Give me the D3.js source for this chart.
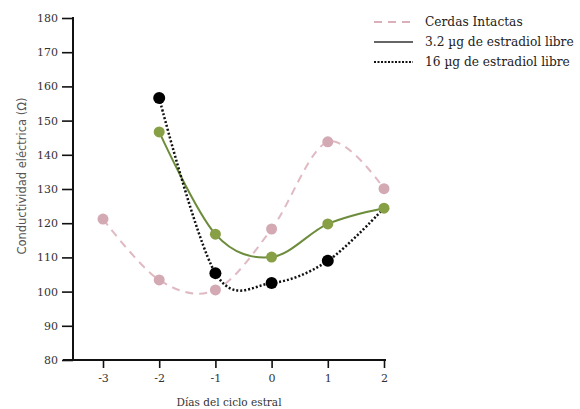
<!DOCTYPE html>
<html>
<head>
<meta charset="utf-8">
<script src="https://cdn.jsdelivr.net/npm/d3@7"></script>
<style>
  body { margin: 0; background: #fff; }
  text { font-family: "DejaVu Serif", "Liberation Serif", serif; }
</style>
</head>
<body>
<div id="chart"></div>
<script>
// dias del ciclo estral
var days = [-3, -2, -1, 0, 1, 2];
var yTicks = [80, 90, 100, 110, 120, 130, 140, 150, 160, 170, 180];

// conductividad por grupo
var intactDays = [-3, -2, -1, 0, 1, 2];
var intactVals = [121.2, 103.4, 100.5, 118.3, 143.8, 130.1];

var lowDays = [-2, -1, 0, 1, 2];
var lowVals = [146.7, 116.8, 110.1, 119.8, 124.4];

var highDays = [-2, -1, 0, 1, 2];
var highVals = [156.6, 105.4, 102.5, 109.0, 124.4];

var seriesNames = ["Cerdas Intactas", "3.2 \u00b5g de estradiol libre", "16 \u00b5g de estradiol libre"];

var svgWidth = 580;
var svgHeight = 409;

var svg = d3.select("#chart")
    .append("svg")
    .attr("width", svgWidth)
    .attr("height", svgHeight);

var x = d3.scaleLinear()
    .domain([-3, 2])
    .range([103, 384]);

var y = d3.scaleLinear()
    .domain([80, 180])
    .range([360, 18]);

// y axis
var yAxis = svg.append("g")
    .attr("transform", "translate(73,0)")
    .call(d3.axisLeft(y).tickValues(yTicks).tickSize(11).tickSizeOuter(0).tickPadding(4));
yAxis.select(".domain").remove();
yAxis.selectAll(".tick line").attr("stroke", "#111").attr("stroke-width", 1.6);
yAxis.selectAll(".tick text")
    .attr("fill", "#333")
    .style("font-size", "11px")
    .style("font-family", "DejaVu Serif");

svg.append("line")
    .attr("x1", 73).attr("x2", 73)
    .attr("y1", y(180) - 1).attr("y2", y(80) + 1)
    .attr("stroke", "#111").attr("stroke-width", 2);

// x axis
var xAxis = svg.append("g")
    .attr("transform", "translate(0,360)")
    .call(d3.axisBottom(x).tickValues(days).tickSize(8).tickPadding(6).tickFormat(d => String(d)));
xAxis.select(".domain").remove();
xAxis.selectAll(".tick line").attr("stroke", "#111").attr("stroke-width", 1.6);
xAxis.selectAll(".tick text")
    .attr("fill", "#333")
    .style("font-size", "11px")
    .style("font-family", "DejaVu Serif");

svg.append("line")
    .attr("x1", 63).attr("x2", x(2) + 2)
    .attr("y1", 360).attr("y2", 360)
    .attr("stroke", "#111").attr("stroke-width", 2);

// axis titles
svg.append("text")
    .attr("x", 229)
    .attr("y", 406)
    .attr("text-anchor", "middle")
    .attr("fill", "#333")
    .style("font-size", "10.5px")
    .text("D\u00edas del ciclo estral");

svg.append("text")
    .attr("transform", "translate(26,176) rotate(-90)")
    .attr("text-anchor", "middle")
    .attr("fill", "#555")
    .style("font-size", "11.5px")
    .style("font-family", "DejaVu Sans")
    .text("Conductividad el\u00e9ctrica (\u03a9)");

var line = d3.line()
    .x(d => x(d[0]))
    .y(d => y(d[1]))
    .curve(d3.curveCatmullRom.alpha(0));

var intact = d3.zip(intactDays, intactVals);
var low = d3.zip(lowDays, lowVals);
var high = d3.zip(highDays, highVals);

// cerdas intactas
svg.append("path")
    .datum(intact)
    .attr("d", line)
    .attr("fill", "none")
    .attr("stroke", "#e0bac3")
    .attr("stroke-width", 2)
    .attr("stroke-dasharray", "8,6");

svg.selectAll(".pInt")
    .data(intact)
    .enter()
    .append("circle")
    .attr("cx", d => x(d[0]))
    .attr("cy", d => y(d[1]))
    .attr("r", 5.5)
    .attr("fill", "#d3aab4");

// 3.2 ug
svg.append("path")
    .datum(low)
    .attr("d", line)
    .attr("fill", "none")
    .attr("stroke", "#6d8c3c")
    .attr("stroke-width", 2);

// 16 ug
svg.append("path")
    .datum(high)
    .attr("d", line)
    .attr("fill", "none")
    .attr("stroke", "#111")
    .attr("stroke-width", 2.5)
    .attr("stroke-dasharray", "2,2");

svg.selectAll(".pLow")
    .data(low)
    .enter()
    .append("circle")
    .attr("cx", d => x(d[0]))
    .attr("cy", d => y(d[1]))
    .attr("r", 5.5)
    .attr("fill", "#87a046");

svg.selectAll(".pHigh")
    .data(high.slice(0, 4))
    .enter()
    .append("circle")
    .attr("cx", d => x(d[0]))
    .attr("cy", d => y(d[1]))
    .attr("r", 6)
    .attr("fill", "#000");

// legend
var legend = svg.append("g").attr("transform", "translate(374,22)");
var legendStyles = [
    { stroke: "#dcb0ba", dash: "8,6", w: 2 },
    { stroke: "#333", dash: null, w: 1.6 },
    { stroke: "#111", dash: "2,1.5", w: 2 }
];
seriesNames.forEach(function(name, i) {
    var g = legend.append("g").attr("transform", "translate(0," + (i * 20) + ")");
    g.append("line")
        .attr("x1", 0).attr("x2", 39)
        .attr("stroke", legendStyles[i].stroke)
        .attr("stroke-width", legendStyles[i].w)
        .attr("stroke-dasharray", legendStyles[i].dash);
    g.append("text")
        .attr("x", 51)
        .attr("y", 4)
        .attr("fill", "#222")
        .style("font-size", "12.2px")
        .text(name);
});
</script>
</body>
</html>
